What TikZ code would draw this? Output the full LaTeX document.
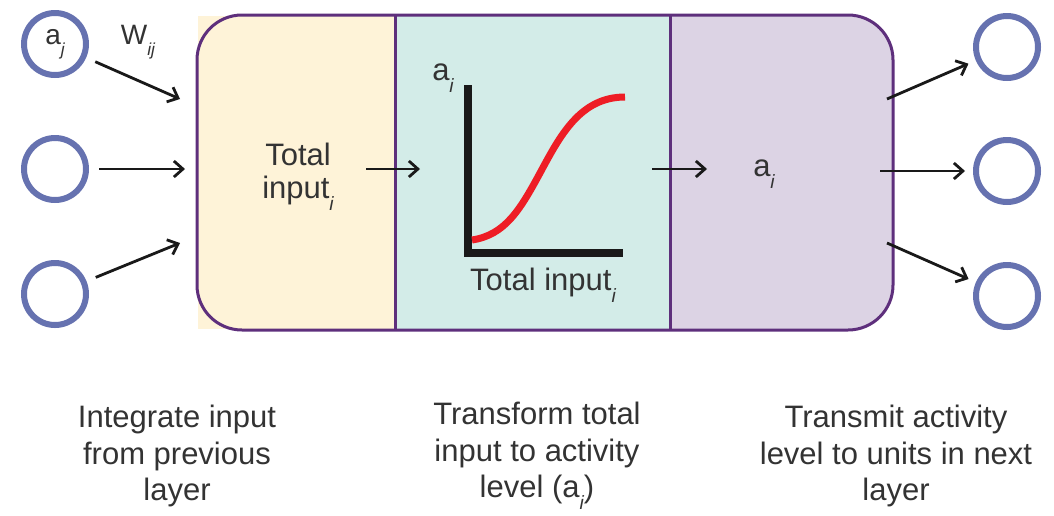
\documentclass[tikz,border=0pt]{standalone}
\usepackage{fontspec}
\setmainfont{Liberation Sans}
\usepackage{graphicx}
\usepackage{tikz}
\usetikzlibrary{positioning, arrows.meta}
\definecolor{framecol}{HTML}{5E2F7C}
\definecolor{integcol}{HTML}{FEF3D8}
\definecolor{transcol}{HTML}{D3ECE8}
\definecolor{sendcol}{HTML}{DCD3E4}
\definecolor{unitcol}{HTML}{6672B0}
\definecolor{curvecol}{HTML}{EE1D25}
\definecolor{textcol}{HTML}{333333}
% indice in corsivo, abbassato
\newcommand{\idx}[1]{\raisebox{-0.4em}{\scalebox{0.62}{\itshape #1}}}
\tikzset{
	>={Straight Barb[length=4.5pt, width=8pt]},
	% unita' della rete
	unit/.style={circle, draw=unitcol, line width=3pt, minimum size=31pt, inner sep=0pt,
	             font=\fontsize{14}{16}\selectfont, text=textcol},
	% connessione
	link/.style={->, line width=1.4pt, black!90},
	% testo dentro il blocco
	txt/.style={font=\fontsize{15.5}{16.5}\selectfont, text=textcol, align=center, inner sep=0pt},
	% didascalie sotto
	caption/.style={font=\fontsize{15.5}{18.25}\selectfont, text=textcol, align=center, inner sep=0pt},
	% grafico
	axis/.style={line width=4pt, black!90},
	curve/.style={line width=3.5pt, curvecol},
}

\begin{document}
\begin{tikzpicture}[x=0.5pt, y=-0.5pt]
    \useasboundingbox (0,0) rectangle (1054,515);
    % blocco a tre sezioni
    \fill[sendcol, rounded corners=22.5pt] (197,15) rectangle (893,330);
    \fill[integcol] (198,16) rectangle (395,329);
    \fill[transcol] (395,15) rectangle (670,330);
    \draw[framecol, line width=1.5pt, rounded corners=22.5pt] (197,15) rectangle (893,330);
    \draw[framecol, line width=1.5pt] (395,15) -- (395,330) (670,15) -- (670,330);
    % unita' in ingresso e in uscita
    \node[unit] (in1) at (55,44) {a\idx{j}};
    \node[unit] (in2) at (55,169) {};
    \node[unit] (in3) at (55,294) {};
    \node[unit] (out1) at (1007,47) {};
    \node[unit] (out2) at (1007,171) {};
    \node[unit] (out3) at (1007,296) {};
    \node[font=\fontsize{14}{16}\selectfont, text=textcol] (wij) at (138,42) {W\idx{ij}};
    \coordinate (i1) at (180,99);
    \coordinate (i2) at (185,169);
    \coordinate (i3) at (180,243);
    \coordinate (o1) at (887,99);
    \coordinate (o2) at (880,171);
    \coordinate (o3) at (887,243);
    \draw[link, shorten <=5pt] (in1) -- (i1);
    \draw[link, shorten <=5pt] (in2) -- (i2);
    \draw[link, shorten <=5pt] (in3) -- (i3);
    \draw[link, shorten >=4pt] (o1) -- (out1);
    \draw[link, shorten >=4pt] (o2) -- (out2);
    \draw[link, shorten >=4pt] (o3) -- (out3);
    % integrazione
    \node[txt] (tot) at (298,177) {Total\\input\idx{i}};
    \coordinate (t1) at (366,169);
    \coordinate (t2) at (420,169);
    \draw[link] (t1) -- (t2);
    % funzione di attivazione
    \coordinate (ytop) at (468,85);
    \coordinate (orig) at (468,253);
    \coordinate (xend) at (623,253);
    \draw[axis] (ytop) -- (orig) -- (xend);
    \draw[curve] (472,240) .. controls (505,235) and (520,210) .. (540,173)
                 .. controls (560,136) and (580,97) .. (625,97);
    \node[txt] (ai) at (443,78) {a\idx{i}};
    \node[txt, anchor=base] (xlab) at (543,290) {Total input\idx{i}};
    \coordinate (t3) at (652,169);
    \coordinate (t4) at (707,169);
    \draw[link] (t3) -- (t4);
    % trasmissione
    \node[txt] (act) at (764,174) {a\idx{i}};
    % didascalie
    \node[caption] (cap1) at (177,456) {Integrate input\\from previous\\layer};
    \node[caption] (cap2) at (537,456) {Transform total\\input to activity\\level (a\idx{i})};
    \node[caption] (cap3) at (896,456) {Transmit activity\\level to units in next\\layer};
  \end{tikzpicture}
\end{document}
